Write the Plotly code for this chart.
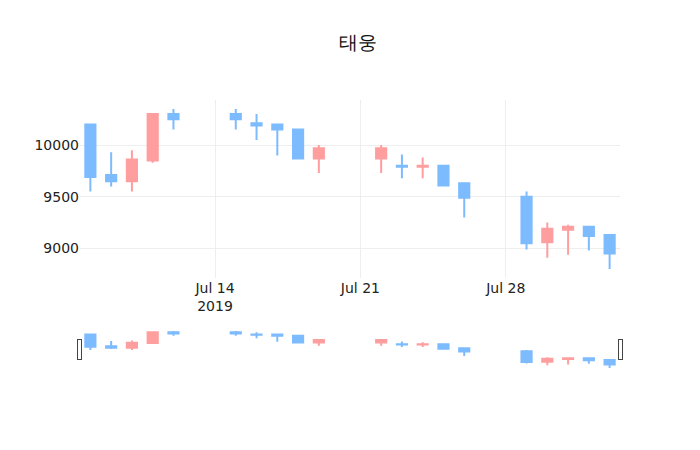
import plotly.graph_objects as go

# daily OHLC for 태웅
dates = [
    "2019-07-08", "2019-07-09", "2019-07-10", "2019-07-11", "2019-07-12",
    "2019-07-15", "2019-07-16", "2019-07-17", "2019-07-18", "2019-07-19",
    "2019-07-22", "2019-07-23", "2019-07-24", "2019-07-25", "2019-07-26",
    "2019-07-29", "2019-07-30", "2019-07-31", "2019-08-01", "2019-08-02",
]
opens = [10200, 9710, 9650, 9850, 10300,
         10300, 10210, 10200, 10150, 9870,
         9870, 9800, 9790, 9800, 9630,
         9500, 9060, 9180, 9210, 9130]
highs = [10200, 9930, 9950, 10300, 10350,
         10350, 10300, 10200, 10150, 10000,
         10000, 9910, 9880, 9800, 9630,
         9550, 9250, 9230, 9210, 9130]
lows = [9550, 9600, 9550, 9830, 10150,
        10150, 10050, 9900, 9860, 9730,
        9730, 9680, 9680, 9600, 9300,
        8990, 8910, 8940, 8980, 8800]
closes = [9690, 9650, 9860, 10300, 10250,
          10250, 10190, 10150, 9870, 9970,
          9970, 9790, 9800, 9610, 9490,
          9050, 9190, 9210, 9120, 8950]

UP_COLOR = "#FF9E9E"
DOWN_COLOR = "#7DBBFF"

fig = go.Figure(
    go.Candlestick(
        x=dates,
        open=opens,
        high=highs,
        low=lows,
        close=closes,
        increasing=dict(line=dict(color=UP_COLOR), fillcolor=UP_COLOR),
        decreasing=dict(line=dict(color=DOWN_COLOR), fillcolor=DOWN_COLOR),
        showlegend=False,
    )
)

# page body adds an 8px offset, so margins are trimmed on the left/top
fig.update_layout(
    template="none",
    width=700,
    height=450,
    title=dict(text="태웅", x=0.5, y=0.924, yanchor="middle",
               font=dict(size=19, color="#111")),
    font=dict(family="DejaVu Sans", size=14, color="#222"),
    margin=dict(l=72, r=88, t=92, b=88),
)
fig.update_yaxes(tickformat="d", gridcolor="#eee")
fig.update_xaxes(gridcolor="#eee")

fig.write_html("out.html")
